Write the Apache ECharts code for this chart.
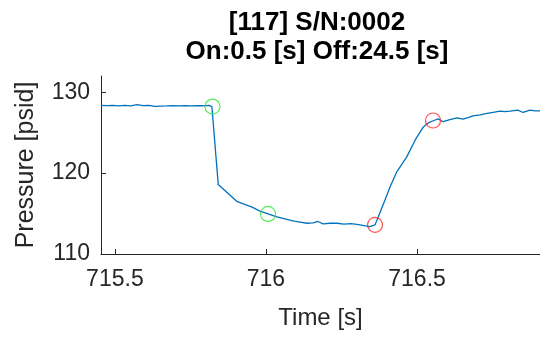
<!DOCTYPE html>
<html>
<head>
<meta charset="utf-8">
<script src="https://cdn.jsdelivr.net/npm/echarts@6/dist/echarts.min.js"></script>
<style>html,body{margin:0;padding:0;background:#fff;}#c{width:540px;height:337px;}</style>
</head>
<body>
<div id="c"></div>
<script>
const titleLines = ["[117] S/N:0002", "On:0.5 [s] Off:24.5 [s]"];
const xName = "Time [s]";
const yName = "Pressure [psid]";
const xTicks = [715.5, 716, 716.5];
const yTicks = [110, 120, 130];
const xRange = [715.454, 716.907];
const yRange = [110, 132];

const time = [
  715.454, 715.474, 715.493, 715.513, 715.533, 715.553, 715.573, 715.593, 715.613, 715.632,
  715.652, 715.672, 715.692, 715.712, 715.732, 715.752, 715.772, 715.791, 715.811, 715.821,
  715.842, 715.905, 715.954, 715.980, 716.007, 716.036, 716.063, 716.089, 716.113, 716.136,
  716.156, 716.172, 716.189, 716.212, 716.235, 716.258, 716.281, 716.301, 716.325, 716.344,
  716.361, 716.372, 716.391, 716.411, 716.433, 716.466, 716.497, 716.521, 716.537, 716.556,
  716.570, 716.586, 716.609, 716.632, 716.652, 716.669, 716.685, 716.709, 716.732, 716.752,
  716.775, 716.791, 716.808, 716.834, 716.851, 716.874, 716.891, 716.907
];
const pressure = [
  128.36, 128.33, 128.38, 128.32, 128.36, 128.30, 128.47, 128.33, 128.36, 128.24,
  128.28, 128.30, 128.34, 128.30, 128.32, 128.30, 128.33, 128.32, 128.36, 128.22,
  118.6, 116.46, 115.8, 115.3, 114.95, 114.6, 114.35, 114.1, 113.95, 113.8,
  113.85, 114.02, 113.72, 113.8, 113.8, 113.7, 113.75, 113.65, 113.5, 113.37,
  113.6, 114.6, 116.4, 118.3, 120.16, 122.0, 124.3, 125.7, 126.2, 126.5,
  126.7, 126.35, 126.6, 126.83, 126.67, 126.85, 127.07, 127.2, 127.37, 127.5,
  127.65, 127.6, 127.65, 127.78, 127.49, 127.78, 127.7, 127.68
];
const onMarks = [[715.823, 128.22], [716.007, 114.95]];
const offMarks = [[716.361, 113.6], [716.553, 126.5]];

const FONT = "'Liberation Sans', Arial, Helvetica, sans-serif";
const TXT = '#262626';

const chart = echarts.init(document.getElementById('c'), null, {renderer: 'canvas'});
chart.setOption({
  animation: false,
  backgroundColor: '#fff',
  title: {
    text: titleLines.join('\n'),
    left: 312,
    textAlign: 'center',
    top: 3,
    textStyle: {fontFamily: FONT, fontSize: 26, fontWeight: 'bold', color: '#000', lineHeight: 29}
  },
  grid: {left: 101, right: 0, top: 76, bottom: 83, containLabel: false},
  xAxis: {
    type: 'value', min: xRange[0], max: xRange[1],
    name: xName, nameLocation: 'middle', nameGap: 52,
    nameTextStyle: {fontFamily: FONT, fontSize: 24, color: TXT},
    axisLine: {show: true, lineStyle: {color: TXT, width: 1}},
    axisTick: {show: true, inside: true, length: 5, customValues: xTicks, lineStyle: {color: TXT}},
    axisLabel: {customValues: xTicks, fontFamily: FONT, fontSize: 23, color: TXT, margin: 14,
      formatter: v => String(v)},
    splitLine: {show: false}
  },
  yAxis: {
    type: 'value', min: yRange[0], max: yRange[1],
    name: yName, nameLocation: 'middle', nameGap: 62, nameRotate: 90,
    nameTextStyle: {fontFamily: FONT, fontSize: 25, color: TXT},
    axisLine: {show: true, lineStyle: {color: TXT, width: 1}},
    axisTick: {show: true, inside: true, length: 5, customValues: yTicks, lineStyle: {color: TXT}},
    axisLabel: {customValues: yTicks, fontFamily: FONT, fontSize: 23, color: TXT, margin: 11},
    splitLine: {show: false}
  },
  series: [
    {
      type: 'line', data: time.map((t, i) => [t, pressure[i]]),
      showSymbol: false, symbol: 'none',
      lineStyle: {color: '#0072BD', width: 1.3}, z: 2
    },
    {
      type: 'scatter', data: onMarks, symbol: 'circle', symbolSize: 15,
      itemStyle: {color: 'rgba(0,0,0,0)', borderColor: '#2ee82e', borderWidth: 1.2}, z: 3
    },
    {
      type: 'scatter', data: offMarks, symbol: 'circle', symbolSize: 15,
      itemStyle: {color: 'rgba(0,0,0,0)', borderColor: '#ff2a2a', borderWidth: 1.2}, z: 3
    }
  ]
});
</script>
</body>
</html>
